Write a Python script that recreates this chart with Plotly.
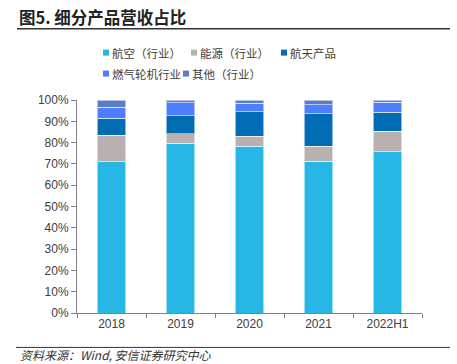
import plotly.graph_objects as go

categories = ["2018", "2019", "2020", "2021", "2022H1"]
series_names = ["航空（行业）", "能源（行业）", "航天产品", "燃气轮机行业", "其他（行业）"]
aviation = [70.9, 79.8, 78.4, 71.2, 75.6]
energy = [12.5, 4.4, 4.6, 7.0, 9.8]
aerospace = [8.0, 8.5, 11.6, 15.3, 8.9]
gas_turbine = [5.3, 6.0, 3.9, 4.2, 4.7]
others = [3.3, 1.3, 1.5, 2.3, 1.0]
y_ticks = [0, 10, 20, 30, 40, 50, 60, 70, 80, 90, 100]
y_tick_labels = ["0%", "10%", "20%", "30%", "40%", "50%", "60%", "70%", "80%", "90%", "100%"]
title_text = "图5. 细分产品营收占比"
source_text = "资料来源：Wind, 安信证券研究中心"

colors = ["#26B7E6", "#B9B1AF", "#006CB3", "#4F7DFF", "#5B7DC9"]
values = [aviation, energy, aerospace, gas_turbine, others]

W, H = 457, 364
L, R, T, B = 77, 35, 99.5, 51
PW, PH = W - L - R, H - T - B


def px(x):
    return (x - L) / PW


def py(y):
    return (H - B - y) / PH


fig = go.Figure()
for name, vals, col in zip(series_names, values, colors):
    fig.add_trace(go.Bar(
        x=categories, y=vals, name=name,
        marker=dict(color=col, line=dict(color="rgba(255,255,255,0.55)", width=1)),
        showlegend=False,
    ))

cjk = "Noto Sans CJK SC, sans-serif"
annotations = []
shapes = []

# Title
annotations.append(dict(x=px(17), y=py(16.5), xref="paper", yref="paper", xanchor="left", yanchor="middle",
                        text="<b>" + title_text + "</b>", showarrow=False,
                        font=dict(family=cjk, size=16.5, color="#222222")))
shapes.append(dict(type="line", xref="paper", yref="paper", x0=px(17), x1=px(450), y0=py(28), y1=py(28),
                   line=dict(color="#333333", width=1.5)))

# Legend (markers + labels)
legend_pos = [(103, 110, 52), (191, 198, 52), (281, 288, 52), (103, 110, 73), (183, 190, 73)]
for (mx, tx, yy), name, col in zip(legend_pos, series_names, colors):
    shapes.append(dict(type="rect", xref="paper", yref="paper", x0=px(mx), x1=px(mx + 6),
                       y0=py(yy + 3), y1=py(yy - 3), fillcolor=col, line=dict(width=0)))
    annotations.append(dict(x=px(tx), y=py(yy), xref="paper", yref="paper", xanchor="left", yanchor="middle",
                            text=name, showarrow=False,
                            font=dict(family=cjk, size=11.5, color="#404040")))

# Source line + text
shapes.append(dict(type="line", xref="paper", yref="paper", x0=px(16), x1=px(450), y0=py(347.5), y1=py(347.5),
                   line=dict(color="#333333", width=1)))
annotations.append(dict(x=px(18), y=py(355), xref="paper", yref="paper", xanchor="left", yanchor="middle",
                        text="<i>" + source_text + "</i>", showarrow=False,
                        font=dict(family=cjk, size=12, color="#333333")))

fig.update_layout(
    width=W, height=H,
    margin=dict(l=L, r=R, t=T, b=B, pad=0),
    barmode="stack", bargap=0.59,
    plot_bgcolor="white", paper_bgcolor="white",
    showlegend=False,
    annotations=annotations, shapes=shapes,
    font=dict(family="Liberation Sans, Arial, sans-serif", size=12, color="#404040"),
)
fig.update_xaxes(showline=True, linecolor="#808080", linewidth=1, ticks="outside", tickson="boundaries",
                 ticklen=4, tickcolor="#808080", showgrid=False,
                 tickfont=dict(family="Liberation Sans, Arial, sans-serif", size=12, color="#404040"))
fig.update_yaxes(range=[0, 100], tickvals=y_ticks, ticktext=y_tick_labels, showline=True, linecolor="#808080",
                 linewidth=1, ticks="outside", ticklen=5, tickcolor="#808080", showgrid=False, zeroline=False,
                 tickfont=dict(family="Liberation Sans, Arial, sans-serif", size=12, color="#404040"))

fig.write_html("out.html", config={"displayModeBar": False},
               post_script="document.body.style.margin='0';document.body.style.padding='0';")
